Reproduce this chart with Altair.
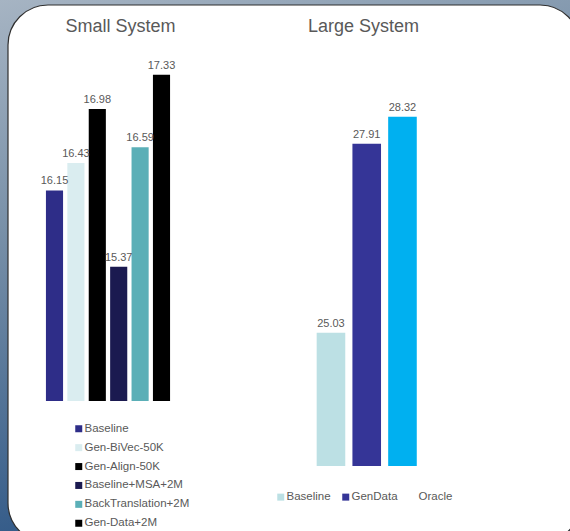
import altair as alt
import pandas as pd

# ---- data ----
small_cats = ["Baseline", "Gen-BiVec-50K", "Gen-Align-50K", "Baseline+MSA+2M",
              "BackTranslation+2M", "Gen-Data+2M"]
small_vals = [16.15, 16.43, 16.98, 15.37, 16.59, 17.33]
small_colors = ["#2E2D88", "#DAEDF0", "#000000", "#1B1A50", "#5BAFB7", "#000000"]

large_cats = ["Baseline", "GenData", "Oracle"]
large_vals = [25.03, 27.91, 28.32]
large_colors = ["#BCE0E4", "#353597", "#00B0F0"]
large_legend_colors = ["#BCE0E4", "#353597", "#FFFFFF"]

FONT = "Liberation Sans"
GREY = "#595959"

small_df = pd.DataFrame({"cat": small_cats, "value": small_vals})
large_df = pd.DataFrame({"cat": large_cats, "value": large_vals})
one = pd.DataFrame({"k": [0]})

# ---- decorations ----
bg = alt.Chart(one).mark_rect(
    color=alt.LinearGradient(
        gradient="linear",
        stops=[alt.GradientStop(color="#a6b4c3", offset=0),
               alt.GradientStop(color="#7890a8", offset=0.4),
               alt.GradientStop(color="#2c5585", offset=1)],
        x1=0, x2=0.3, y1=0, y2=1)
).encode(x=alt.value(0), x2=alt.value(570), y=alt.value(0), y2=alt.value(531))

card = alt.Chart(one).mark_rect(
    fill="white", stroke="#2f2f2f", strokeWidth=1.2, cornerRadius=40
).encode(x=alt.value(8), x2=alt.value(580), y=alt.value(5), y2=alt.value(543))

titles = alt.Chart(pd.DataFrame({
    "t": ["Small System", "Large System"], "px": [120.5, 363.5]
})).mark_text(font=FONT, fontSize=18, color=GREY, baseline="alphabetic", align="center").encode(
    x=alt.X("px:Q", scale=alt.Scale(domain=[0, 570], range=[0, 570]), axis=None),
    y=alt.value(31.5), text="t:N")

# ---- small system ----
sx = alt.X("cat:N", sort=small_cats, axis=None,
           scale=alt.Scale(range=[43.8, 172.2], paddingInner=0.2, paddingOuter=0.1))
sy = alt.Y("value:Q", axis=None, scale=alt.Scale(domain=[14, 18], range=[401, 9.16], zero=False, nice=False))

small_bars = alt.Chart(small_df).mark_bar().encode(
    x=sx, y=sy, y2=alt.datum(14),
    color=alt.Color("cat:N", sort=small_cats,
                    scale=alt.Scale(domain=small_cats, range=small_colors),
                    legend=alt.Legend(orient="none", legendX=73, legendY=423, direction="vertical",
                                      title=None, symbolType="square", symbolSize=49,
                                      symbolStrokeWidth=0, labelFont=FONT, labelFontSize=11.5,
                                      labelColor=GREY, rowPadding=5.9, labelOffset=0)))
small_text = alt.Chart(small_df).mark_text(
    font=FONT, fontSize=11, color=GREY, baseline="alphabetic", dy=-6
).encode(x=sx, y=sy, text=alt.Text("value:Q", format=".2f"))
small = alt.layer(small_bars, small_text)

# ---- large system ----
lx = alt.X("cat:N", sort=large_cats, axis=None,
           scale=alt.Scale(range=[313.1, 420.35], paddingInner=0.2, paddingOuter=0.1))
ly = alt.Y("value:Q", axis=None, scale=alt.Scale(domain=[23, 30], range=[466, 6.45], zero=False, nice=False))

large_bars = alt.Chart(large_df).mark_bar().encode(
    x=lx, y=ly, y2=alt.datum(23),
    color=alt.Color("cat:N", sort=large_cats,
                    scale=alt.Scale(domain=large_cats, range=large_colors), legend=None))
large_text = alt.Chart(large_df).mark_text(
    font=FONT, fontSize=11, color=GREY, baseline="alphabetic", dy=-6
).encode(x=lx, y=ly, text=alt.Text("value:Q", format=".2f"))
large = alt.layer(large_bars, large_text)

large_legend = alt.Chart(large_df).mark_square(opacity=0, size=1).encode(
    x=alt.value(0), y=alt.value(0),
    color=alt.Color("cat:N", sort=large_cats,
                    scale=alt.Scale(domain=large_cats, range=large_legend_colors),
                    legend=alt.Legend(orient="none", legendX=275, legendY=491, direction="horizontal",
                                      title=None, symbolType="square", symbolSize=49,
                                      symbolOpacity=1, symbolStrokeWidth=0, labelFont=FONT,
                                      labelFontSize=11.5, labelColor=GREY, columnPadding=9,
                                      labelOffset=0)))

chart = alt.layer(bg, card, titles, small, large, large_legend).resolve_scale(
    x="independent", y="independent", color="independent"
).properties(
    width=570, height=531, padding=0, autosize=alt.AutoSizeParams(type="none")
).configure_view(stroke=None).configure(background="#6d87a3")

chart.save("out.html", embed_options={"renderer": "svg", "actions": False})
